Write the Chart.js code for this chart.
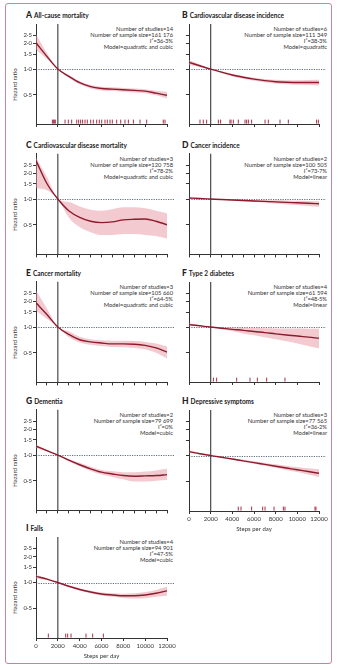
<!doctype html>
<html>
<head>
<meta charset="utf-8" />
<title>Steps per day and hazard ratio</title>
<style>
  body{margin:0;background:#fff;font-family:Lato, "Open Sans", sans-serif;color:#222}
  #fig{position:relative;width:340px;height:671px;overflow:hidden}
  .frame{position:absolute;left:5px;top:3px;width:325px;height:659px;border:1.5px solid #c4849a;border-radius:3px}
  canvas{position:absolute}
  .ttl{position:absolute;font-weight:bold;font-size:6.5px;white-space:nowrap;line-height:8px;color:#222}
  .ttl b{font-size:8.5px;margin-right:2px}
  .note{position:absolute;text-align:right;font-size:5.8px;line-height:6px;white-space:nowrap;color:#333}
  .ylab{position:absolute;width:40px;text-align:center;font-size:6px;line-height:7px;transform:rotate(-90deg);white-space:nowrap;color:#333}
</style>
</head>
<body>
<div id="fig"><div class="frame"></div></div>

<script src="https://cdn.jsdelivr.net/npm/chart.js@4.4.1/dist/chart.umd.min.js"></script>
<script>
  // steps per day where the curves were read
  const STEPS = [0, 1000, 2000, 3000, 4000, 5000, 6000, 7000, 8000, 9000, 10000, 11000, 12000];
  const Y_TICKS = [0.5, 1, 1.5, 2, 2.5];
  const Y_MIN = 0.225, Y_MAX = 3.4;
  const X_MIN = 0, X_MAX = 12000;
  const REF_STEPS = 2000;
  const RUG_Y = 0.24;

  // A all-cause mortality
  const aHR = [2.04, 1.41, 1.0, 0.82, 0.69, 0.62, 0.59, 0.58, 0.57, 0.56, 0.55, 0.52, 0.49];
  const aHi = [2.55, 1.55, 1.0, 0.85, 0.72, 0.65, 0.62, 0.61, 0.60, 0.59, 0.58, 0.555, 0.54];
  const aLo = [1.70, 1.31, 1.0, 0.79, 0.66, 0.59, 0.56, 0.55, 0.54, 0.53, 0.52, 0.49, 0.45];
  const aRug = [1500, 1590, 1680, 1770, 2660, 2960, 3270, 3730, 3910, 4090, 4270, 4490, 4700, 5010, 5250, 5560, 5800, 6020, 6320, 6530, 6780, 6990, 7390, 7760, 8150, 8460, 8920, 9530, 10140, 11660, 11820];
  const aNotes = ['Number of studies=14', 'Number of sample size=161 176', 'I²=36·3%', 'Model=quadratic and cubic'];

  // B cardiovascular disease incidence
  const bHR = [1.20, 1.095, 1.0, 0.92, 0.85, 0.80, 0.76, 0.73, 0.71, 0.70, 0.695, 0.695, 0.695];
  const bHi = [1.28, 1.13, 1.0, 0.94, 0.88, 0.83, 0.79, 0.765, 0.75, 0.74, 0.74, 0.745, 0.75];
  const bLo = [1.12, 1.06, 1.0, 0.90, 0.82, 0.77, 0.73, 0.70, 0.675, 0.66, 0.655, 0.65, 0.64];
  const bRug = [1015, 1320, 1630, 2710, 2920, 3780, 3880, 4090, 4550, 5170, 5320, 5480, 5780, 7020, 7320, 8400, 9170, 11780, 11940];
  const bNotes = ['Number of studies=6', 'Number of sample size=111 349', 'I²=38·3%', 'Model=quadratic'];

  // C cardiovascular disease mortality
  const cHR = [2.82, 1.52, 1.0, 0.73, 0.61, 0.55, 0.53, 0.54, 0.57, 0.58, 0.585, 0.55, 0.50];
  const cHi = [3.05, 1.82, 1.0, 0.92, 0.82, 0.75, 0.73, 0.76, 0.80, 0.80, 0.78, 0.73, 0.68];
  const cLo = [1.35, 1.27, 1.0, 0.61, 0.47, 0.41, 0.38, 0.38, 0.39, 0.39, 0.38, 0.37, 0.345];
  const cNotes = ['Number of studies=3', 'Number of sample size=120 758', 'I²=78·2%', 'Model=quadratic and cubic'];

  // D cancer incidence
  const dHR = [1.03, 1.013, 1.0, 0.987, 0.975, 0.962, 0.95, 0.938, 0.926, 0.915, 0.903, 0.892, 0.88];
  const dHi = [1.05, 1.02, 1.0, 0.996, 0.99, 0.984, 0.977, 0.97, 0.965, 0.96, 0.953, 0.947, 0.94];
  const dLo = [1.01, 1.005, 1.0, 0.978, 0.96, 0.94, 0.92, 0.905, 0.885, 0.865, 0.85, 0.83, 0.81];
  const dNotes = ['Number of studies=2', 'Number of sample size=100 505', 'I²=73·7%', 'Model=linear'];

  // E cancer mortality
  const eHR = [1.92, 1.40, 1.0, 0.82, 0.71, 0.67, 0.65, 0.635, 0.635, 0.63, 0.61, 0.57, 0.51];
  const eHi = [2.67, 1.65, 1.0, 0.89, 0.77, 0.72, 0.70, 0.69, 0.69, 0.685, 0.67, 0.64, 0.59];
  const eLo = [1.55, 1.25, 1.0, 0.76, 0.66, 0.62, 0.60, 0.585, 0.58, 0.57, 0.55, 0.50, 0.43];
  const eNotes = ['Number of studies=3', 'Number of sample size=105 660', 'I²=64·5%', 'Model=quadratic and cubic'];

  // F type 2 diabetes
  const fHR = [1.07, 1.035, 1.0, 0.97, 0.94, 0.915, 0.885, 0.86, 0.83, 0.805, 0.785, 0.76, 0.74];
  const fHi = [1.11, 1.05, 1.0, 0.99, 0.985, 0.98, 0.975, 0.97, 0.965, 0.96, 0.96, 0.955, 0.955];
  const fLo = [1.035, 1.02, 1.0, 0.94, 0.89, 0.84, 0.80, 0.76, 0.72, 0.68, 0.64, 0.60, 0.56];
  const fRug = [2250, 2550, 4400, 5630, 6310, 7170, 8860];
  const fNotes = ['Number of studies=4', 'Number of sample size=61 594', 'I²=48·5%', 'Model=linear'];

  // G dementia
  const gHR = [1.27, 1.125, 1.0, 0.87, 0.77, 0.69, 0.63, 0.60, 0.575, 0.565, 0.57, 0.575, 0.59];
  const gHi = [1.33, 1.15, 1.0, 0.90, 0.81, 0.73, 0.67, 0.645, 0.63, 0.63, 0.64, 0.66, 0.69];
  const gLo = [1.21, 1.10, 1.0, 0.84, 0.74, 0.65, 0.59, 0.555, 0.52, 0.49, 0.49, 0.50, 0.51];
  const gNotes = ['Number of studies=2', 'Number of sample size=79 699', 'I²=0%', 'Model=cubic'];

  // H depressive symptoms
  const hHR = [1.11, 1.05, 1.0, 0.953, 0.91, 0.866, 0.826, 0.787, 0.75, 0.715, 0.682, 0.65, 0.62];
  const hHi = [1.15, 1.07, 1.0, 0.965, 0.93, 0.89, 0.855, 0.82, 0.79, 0.76, 0.735, 0.71, 0.69];
  const hLo = [1.075, 1.035, 1.0, 0.94, 0.89, 0.845, 0.80, 0.76, 0.72, 0.675, 0.64, 0.60, 0.56];
  const hRug = [4550, 4800, 5780, 6800, 7020, 7850, 8710, 8860, 11630, 11720];
  const hNotes = ['Number of studies=3', 'Number of sample size=77 565', 'I²=36·2%', 'Model=linear'];

  // I falls
  const iHR = [1.18, 1.095, 1.0, 0.905, 0.83, 0.775, 0.735, 0.715, 0.70, 0.70, 0.715, 0.75, 0.80];
  const iHi = [1.23, 1.12, 1.0, 0.925, 0.86, 0.80, 0.765, 0.75, 0.74, 0.75, 0.775, 0.82, 0.89];
  const iLo = [1.115, 1.07, 1.0, 0.885, 0.805, 0.75, 0.705, 0.68, 0.66, 0.65, 0.655, 0.68, 0.70];
  const iRug = [1130, 2720, 2900, 3210, 4580, 5190, 6170];
  const iNotes = ['Number of studies=4', 'Number of sample size=94 901', 'I²=47·5%', 'Model=cubic'];

  const CURVE = '#8e1a2e';
  const BAND = 'rgba(232,150,160,0.5)';
  const RUG = '#a3324a';
  const FONT = 'Lato, "Open Sans", sans-serif';
  const ROW_AXIS = [125, 255, 383, 511, 638];

  const panels = [
    {key:'A', title:'All-cause mortality', col:0, row:0, hr:aHR, hi:aHi, lo:aLo, rug:aRug, notes:aNotes, step:2000},
    {key:'B', title:'Cardiovascular disease incidence', col:1, row:0, hr:bHR, hi:bHi, lo:bLo, rug:bRug, notes:bNotes, step:2000},
    {key:'C', title:'Cardiovascular disease mortality', col:0, row:1, hr:cHR, hi:cHi, lo:cLo, rug:[], notes:cNotes, step:1000},
    {key:'D', title:'Cancer incidence', col:1, row:1, hr:dHR, hi:dHi, lo:dLo, rug:[], notes:dNotes, step:1000},
    {key:'E', title:'Cancer mortality', col:0, row:2, hr:eHR, hi:eHi, lo:eLo, rug:[], notes:eNotes, step:1000},
    {key:'F', title:'Type 2 diabetes', col:1, row:2, hr:fHR, hi:fHi, lo:fLo, rug:fRug, notes:fNotes, step:2000},
    {key:'G', title:'Dementia', col:0, row:3, hr:gHR, hi:gHi, lo:gLo, rug:[], notes:gNotes, step:1000},
    {key:'H', title:'Depressive symptoms', col:1, row:3, hr:hHR, hi:hHi, lo:hLo, rug:hRug, notes:hNotes, step:2000, xLabels:true},
    {key:'I', title:'Falls', col:0, row:4, hr:iHR, hi:iHi, lo:iLo, rug:iRug, notes:iNotes, step:2000, xLabels:true}
  ];

  // dotted line at HR 1, runs past the plot to the panel edge
  const oneLine = {
    id: 'oneLine',
    beforeDatasetsDraw(chart){
      const {ctx, chartArea, scales:{y}} = chart;
      const py = Math.round(y.getPixelForValue(1)) + 0.5;
      ctx.save();
      ctx.strokeStyle = '#3a4660';
      ctx.lineWidth = 0.8;
      ctx.setLineDash([1.2, 1.2]);
      ctx.beginPath();
      ctx.moveTo(chartArea.left, py);
      ctx.lineTo(chart.width - 3, py);
      ctx.stroke();
      ctx.restore();
    }
  };

  const fig = document.getElementById('fig');
  const pts = (ys) => STEPS.map((x, i) => ({x, y: ys[i]}));

  function addDiv(cls, html, style){
    const d = document.createElement('div');
    d.className = cls;
    d.innerHTML = html;
    Object.assign(d.style, style);
    fig.appendChild(d);
  }

  panels.forEach(p => {
    const leftCol = p.col === 0;
    const axisY = ROW_AXIS[p.row];
    const xh = p.xLabels ? 26 : 4;

    addDiv('ttl', '<b>' + p.key + '</b>' + p.title, {left:(leftCol ? 26 : 182) + 'px', top:(axisY - 114) + 'px'});
    addDiv('note', p.notes.join('<br>'), {right:(leftCol ? 167 : 13) + 'px', top:(axisY - 99) + 'px'});
    if (leftCol) addDiv('ylab', 'Hazard ratio', {left:'-6px', top:(axisY - 44) + 'px'});

    const c = document.createElement('canvas');
    c.width = leftCol ? 171 : 145;
    c.height = 106 + xh;
    c.style.left = (leftCol ? 6 : 184) + 'px';
    c.style.top = (axisY - 106) + 'px';
    fig.appendChild(c);

    new Chart(c, {
      type: 'line',
      data: {
        datasets: [
          {data: pts(p.lo), borderWidth:0, pointRadius:0, fill:false, cubicInterpolationMode:'monotone', order:4},
          {data: pts(p.hi), borderWidth:0, pointRadius:0, fill:'-1', backgroundColor:BAND, cubicInterpolationMode:'monotone', order:3},
          {data: [{x:REF_STEPS, y:Y_MIN}, {x:REF_STEPS, y:Y_MAX}], borderColor:'#4a4a4a', borderWidth:1.2, pointRadius:0, order:2},
          {data: pts(p.hr), borderColor:CURVE, borderWidth:1.4, pointRadius:0, fill:false, cubicInterpolationMode:'monotone', order:1},
          {data: p.rug.map(x => ({x, y:RUG_Y})), showLine:false, pointStyle:'line', rotation:90, pointRadius:2, borderColor:RUG, pointBorderWidth:1, order:0}
        ]
      },
      options: {
        responsive: false,
        animation: false,
        events: [],
        layout: {padding: {top:4, right:10, left:0, bottom:0}},
        plugins: {legend:{display:false}, tooltip:{enabled:false}},
        scales: {
          x: {
            type: 'linear', min: X_MIN, max: X_MAX,
            ticks: {display: !!p.xLabels, stepSize: p.step, autoSkip:false, maxRotation:0, padding:1,
                    color:'#333', font:{size:6, family:FONT},
                    callback: v => v % 2000 === 0 ? String(v) : ''},
            grid: {drawOnChartArea:false, drawTicks:true, tickLength:3, color:'#333'},
            border: {color:'#333', width:1},
            title: {display: !!p.xLabels, text:'Steps per day', color:'#333', font:{size:6, family:FONT}, padding:{top:1, bottom:4}},
            afterFit: s => { s.height = xh; }
          },
          y: {
            type: 'logarithmic', min: Y_MIN, max: Y_MAX,
            afterBuildTicks: s => { s.ticks = Y_TICKS.map(v => ({value: v})); },
            ticks: {autoSkip:false, padding:1, color:'#333', font:{size:6, family:FONT},
                    callback: v => leftCol ? Number(v).toFixed(1).replace('.', '·') : ''},
            grid: {drawOnChartArea:false, drawTicks:true, tickLength:3, color:'#333'},
            border: {color:'#333', width:1},
            afterFit: s => { s.width = leftCol ? 30 : 5; }
          }
        }
      },
      plugins: [oneLine]
    });
  });
</script>
</body>
</html>
